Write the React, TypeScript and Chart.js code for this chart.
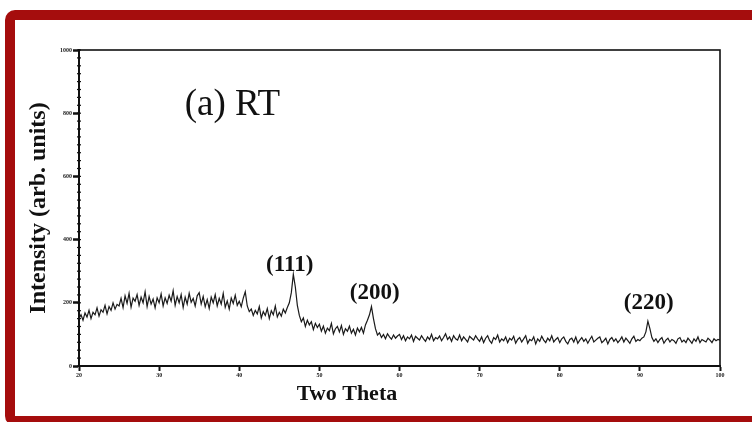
import React, { useEffect, useRef } from "react";
import { Chart, registerables } from "chart.js";

Chart.register(...registerables);

// Two-theta sampling of the scan (degrees)
const thetaStart = 20;
const thetaStep = 0.25;

// Intensity, one value per 0.25 degree from 20 to 100
const intensity: number[] = [
  150, 162, 145, 168, 155, 176, 150, 170, 162, 184, 158, 178, 170, 192, 165, 188, 176, 200, 180, 195,
  190, 214, 185, 222, 198, 230, 186, 215, 205, 226, 192, 218, 200, 235, 188, 220, 196, 212, 184, 216,
  200, 228, 190, 216, 198, 224, 205, 238, 192, 220, 200, 226, 185, 218, 196, 230, 202, 214, 190, 222,
  232, 196, 220, 188, 210, 182, 218, 200, 226, 190, 214, 196, 230, 186, 206, 180, 215, 198, 224, 192,
  205, 188, 215, 235, 190, 172, 180, 160, 176, 165, 188, 152, 172, 160, 182, 150, 175, 162, 190, 155,
  170, 158, 180, 168, 185, 200, 232, 290, 250, 192, 160, 140, 152, 125, 145, 130, 140, 115, 135, 122,
  132, 110, 126, 104, 120, 112, 135, 102, 118, 125, 108, 128, 100, 118, 110, 126, 104, 116, 98, 120,
  108, 122, 104, 130, 145, 162, 188, 150, 118, 98, 105, 90, 100, 86, 102, 92, 85, 98, 88, 95,
  100, 84, 96, 80, 92, 86, 98, 78, 94, 88, 82, 96, 86, 78, 92, 84, 100, 80, 90, 86,
  95, 80, 90, 102, 84, 92, 78, 96, 86, 82, 98, 80, 92, 84, 76, 94, 88, 82, 96, 86,
  78, 92, 74, 88, 96, 80, 72, 90, 84, 98, 76, 86, 80, 92, 74, 88, 82, 94, 72, 84,
  90, 76, 86, 96, 72, 84, 80, 92, 70, 86, 78, 94, 82, 74, 88, 80, 96, 76, 84, 90,
  74, 86, 92, 78, 70, 84, 88, 76, 92, 72, 82, 90, 78, 86, 72, 84, 94, 76, 82, 88,
  92, 74, 80, 88, 70, 84, 90, 78, 86, 74, 82, 92, 76, 88, 80, 72, 86, 94, 78, 84,
  80, 88, 92, 108, 142, 118, 90, 78, 86, 74, 84, 90, 72, 82, 88, 76, 84, 80, 72, 86,
  90, 76, 82, 74, 88, 80, 72, 86, 78, 92, 74, 84, 80, 76, 88, 82, 74, 86, 80, 84,
  82,
];

const xTickValues: number[] = [20, 30, 40, 50, 60, 70, 80, 90, 100];
const yTickValues: number[] = [0, 200, 400, 600, 800, 1000];

const peakLabels: string[] = ["(111)", "(200)", "(220)"];
const peakTheta: number[] = [46.3, 56.9, 91.1];
const peakLabelIntensity: number[] = [320, 231, 199];

const sampleLabel = "(a) RT";
const xTitle = "Two Theta";
const yTitle = "Intensity (arb. units)";

export default function App() {
  const ref = useRef<HTMLCanvasElement | null>(null);

  useEffect(() => {
    document.body.style.margin = "0";
    const points = intensity.map((v, i) => ({ x: thetaStart + i * thetaStep, y: v }));

    const decor = {
      id: "xrdDecor",
      afterDraw(chart: any) {
        const { ctx, chartArea: a, scales } = chart;
        const xs = scales.x;
        const ys = scales.y;
        ctx.save();
        // plot box
        ctx.strokeStyle = "#111";
        ctx.lineWidth = 1.6;
        ctx.strokeRect(a.left, a.top, a.right - a.left, a.bottom - a.top);
        // minor ticks on y axis
        ctx.lineWidth = 1.2;
        for (let v = 0; v <= 1000; v += 25) {
          const py = ys.getPixelForValue(v);
          ctx.beginPath();
          ctx.moveTo(a.left - 2, py);
          ctx.lineTo(a.left + 2, py);
          ctx.stroke();
        }
        // peak labels
        ctx.fillStyle = "#111";
        ctx.textAlign = "center";
        ctx.textBaseline = "middle";
        ctx.font = "bold 23px 'Liberation Serif', 'DejaVu Serif', serif";
        peakLabels.forEach((t, i) => {
          ctx.fillText(t, xs.getPixelForValue(peakTheta[i]), ys.getPixelForValue(peakLabelIntensity[i]));
        });
        // sample label
        ctx.textAlign = "left";
        ctx.font = "37px 'Liberation Serif', 'DejaVu Serif', serif";
        ctx.fillText(sampleLabel, xs.getPixelForValue(33.2), ys.getPixelForValue(826));
        // x axis title
        ctx.textAlign = "center";
        ctx.font = "bold 22px 'Liberation Serif', 'DejaVu Serif', serif";
        ctx.fillText(xTitle, 347, 394);
        ctx.restore();
      },
    };

    const chart = new Chart(ref.current as HTMLCanvasElement, {
      type: "line",
      data: {
        datasets: [
          {
            data: points,
            borderColor: "#1a1a1a",
            borderWidth: 1.2,
            pointRadius: 0,
            tension: 0,
            fill: false,
          },
        ],
      },
      options: {
        animation: false,
        responsive: false,
        maintainAspectRatio: false,
        devicePixelRatio: 1,
        layout: { padding: { top: 50, right: 32, left: 0, bottom: 0 } },
        plugins: { legend: { display: false }, tooltip: { enabled: false } },
        scales: {
          x: {
            type: "linear",
            min: 20,
            max: 100,
            afterBuildTicks: (s: any) => {
              s.ticks = xTickValues.map((v) => ({ value: v }));
            },
            afterFit: (s: any) => {
              s.height = 56;
            },
            ticks: {
              font: { size: 6, weight: "bold", family: "'Liberation Serif', serif" },
              color: "#222",
              padding: 1,
              maxRotation: 0,
              autoSkip: false,
              callback: (v: any) => String(v),
            },
            grid: { drawOnChartArea: false, tickLength: 5, tickWidth: 2, tickColor: "#111" },
            border: { color: "#111", width: 2 },
          },
          y: {
            type: "linear",
            min: 0,
            max: 1000,
            afterBuildTicks: (s: any) => {
              s.ticks = yTickValues.map((v) => ({ value: v }));
            },
            afterFit: (s: any) => {
              s.width = 79;
            },
            ticks: {
              font: { size: 6, weight: "bold", family: "'Liberation Serif', serif" },
              color: "#222",
              padding: 1,
              autoSkip: false,
              callback: (v: any) => String(v),
            },
            grid: { drawOnChartArea: false, tickLength: 6, tickWidth: 2.5, tickColor: "#111" },
            border: { color: "#111", width: 2 },
            title: {
              display: true,
              text: yTitle,
              color: "#111",
              font: { size: 24, weight: "bold", family: "'Liberation Serif', 'DejaVu Serif', serif" },
              padding: { top: 24, bottom: 0 },
            },
          },
        },
      },
      plugins: [decor],
    } as any);
    return () => chart.destroy();
  }, []);

  return (
    <div
      style={{
        position: "fixed",
        left: 0,
        top: 0,
        width: 752,
        height: 422,
        overflow: "hidden",
        background: "#fff",
      }}
    >
      <canvas ref={ref} width={752} height={422} style={{ position: "absolute", left: 0, top: 0 }} />
      <div
        style={{
          position: "absolute",
          left: 5,
          top: 10,
          width: 790,
          height: 416,
          boxSizing: "border-box",
          border: "10px solid #a50d0d",
          borderRadius: 10,
          pointerEvents: "none",
        }}
      />
    </div>
  );
}
